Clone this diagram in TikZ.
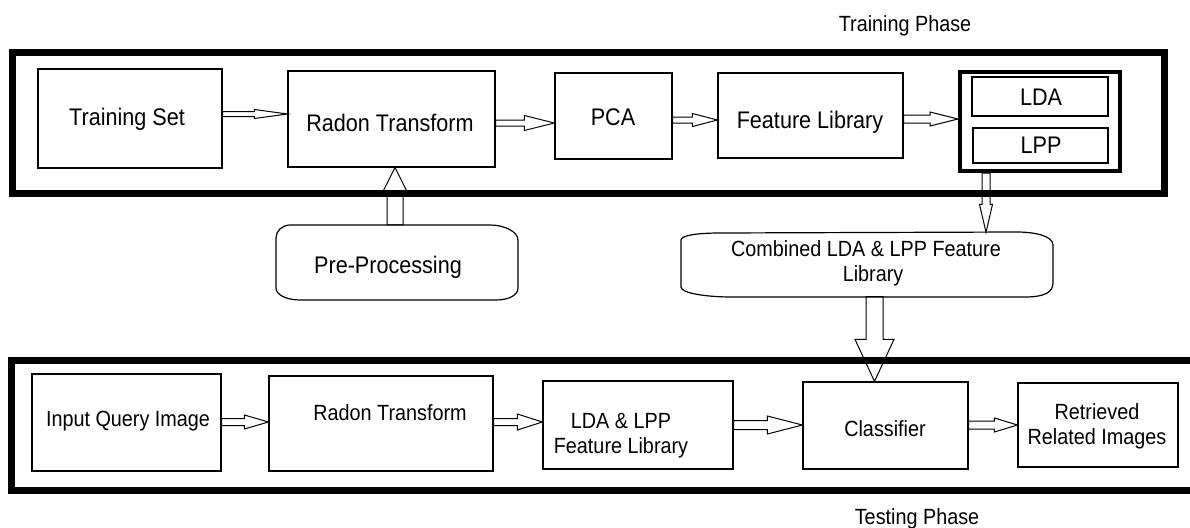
\documentclass[tikz,border=0pt]{standalone}
\usepackage{fontspec}
\setmainfont{Liberation Sans}[FakeStretch=0.9]
\usetikzlibrary{calc}
\tikzset{
  box/.style args={#1 and #2}{draw, line width=1.2pt, inner sep=0pt, minimum width=#1, minimum height=#2},
  lblA/.style={inner sep=0pt, anchor=base, font=\fontsize{24}{28}\selectfont},
  lblB/.style={inner sep=0pt, anchor=base, font=\fontsize{22}{26}\selectfont},
  frame/.style={line width=7pt},
  blk/.style={draw, line width=1pt, line join=miter},
  holder/.style={inner sep=0pt, minimum width=#1},
}
% horizontal block arrow: from, to, y(px), half shaft, half head, head length
\newcommand\harr[6]{\draw[blk] let \p1=(#1.east), \p2=(#2.west) in
  (\x1,-#3pt+#4pt) -- (\x2-#6pt,-#3pt+#4pt) -- (\x2-#6pt,-#3pt+#5pt) -- (\x2,-#3pt)
  -- (\x2-#6pt,-#3pt-#5pt) -- (\x2-#6pt,-#3pt-#4pt) -- (\x1,-#3pt-#4pt) -- cycle;}
% downward block arrow: from, to, x(px), half shaft, half head, head length
\newcommand\darr[6]{\draw[blk] let \p1=(#1.south), \p2=(#2.north) in
  (#3pt-#4pt,\y1) -- (#3pt-#4pt,\y2+#6pt) -- (#3pt-#5pt,\y2+#6pt) -- (#3pt,\y2)
  -- (#3pt+#5pt,\y2+#6pt) -- (#3pt+#4pt,\y2+#6pt) -- (#3pt+#4pt,\y1) -- cycle;}
% upward block arrow
\newcommand\uarr[6]{\draw[blk] let \p1=(#1.north), \p2=(#2.south) in
  (#3pt-#4pt,\y1) -- (#3pt-#4pt,\y2-#6pt) -- (#3pt-#5pt,\y2-#6pt) -- (#3pt,\y2)
  -- (#3pt+#5pt,\y2-#6pt) -- (#3pt+#4pt,\y2-#6pt) -- (#3pt+#4pt,\y1) -- cycle;}
\begin{document}
\begin{tikzpicture}[x=1pt,y=1pt]
\useasboundingbox (0,0) rectangle (1190,-527);
\clip (0,0) rectangle (1190,-527);
\fill[white] (0,0) rectangle (1190,-527);

% headings
\node[lblB] (trphase) at (905,-32) {Training Phase};
\node[lblB] (tsphase) at (917,-524) {Testing Phase};

% frames
\draw[frame] (12.5,-53) rectangle (1164,-193.5);
\draw[frame] (11.5,-360) rectangle (1205,-490);

% training row
\node[box=184pt and 99pt] (ts) at (130,-118.5) {};
\node[lblA] (tstxt) at (127,-125.6) {Training Set};
\node[box=207pt and 96pt] (rt1) at (391.5,-119) {};
\node[lblA] (rt1txt) at (390,-131.6) {Radon Transform};
\node[box=117pt and 86pt] (pca) at (613.5,-116) {};
\node[lblA] (pcatxt) at (613,-125.6) {PCA};
\node[box=185pt and 85pt] (fl) at (810.5,-115.5) {};
\node[lblA] (fltxt) at (810,-128.6) {Feature Library};
\node[box=160pt and 99pt, line width=4pt] (ldabig) at (1040,-121.5) {};
\node[box=136pt and 39pt] (lda) at (1040,-96.5) {};
\node[lblA] (ldatxt) at (1041,-105.6) {LDA};
\node[box=135pt and 35pt] (lpp) at (1040.5,-145.5) {};
\node[lblA] (lpptxt) at (1041,-153.6) {LPP};

% pre-processing
\node[holder=242pt, minimum height=75pt] (pre) at (397,-262.5) {};
\draw[line width=1.2pt] (276,-238) -- (276,-288) .. controls (276,-295) and (287,-300) .. (300,-300)
  -- (496,-300) .. controls (509,-300) and (518,-295) .. (518,-288)
  -- (518,-240) .. controls (518,-232) and (505,-225) .. (490,-225)
  -- (290,-225) .. controls (282,-225) and (276,-231) .. (276,-238) -- cycle;
\node[lblA] (pretxt) at (388,-273.6) {Pre-Processing};

% combined library
\node[holder=372pt, minimum height=64pt] (comb) at (867,-264.5) {};
\draw[line width=1.2pt] (681,-240) -- (681,-287) .. controls (681,-293) and (705,-297) .. (732,-297)
  -- (1025,-297) .. controls (1045,-297) and (1053,-292) .. (1053,-283)
  -- (1053,-245) .. controls (1053,-236) and (1035,-232) .. (1017,-232)
  -- (720,-233) .. controls (700,-233) and (681,-235) .. (681,-240) -- cycle;
\node[lblB] (combtxt1) at (866,-256) {Combined LDA \& LPP Feature};
\node[lblB] (combtxt2) at (873,-281) {Library};

% testing row
\node[box=189pt and 97pt] (iq) at (126.5,-422.5) {};
\node[lblB] (iqtxt) at (128,-426) {Input Query Image};
\node[box=224pt and 95pt] (rt2) at (381,-423.5) {};
\node[lblB] (rt2txt) at (390,-420) {Radon Transform};
\node[box=190pt and 88pt] (ll) at (638,-425) {};
\node[lblB] (lltxt1) at (621,-428) {LDA \& LPP};
\node[lblB] (lltxt2) at (621,-453) {Feature Library};
\node[box=165pt and 87pt] (cls) at (885.5,-425.5) {};
\node[lblB] (clstxt) at (885,-436) {Classifier};
\node[box=160pt and 84pt] (ret) at (1098,-425) {};
\node[lblB] (rettxt1) at (1097,-419) {Retrieved};
\node[lblB] (rettxt2) at (1097,-444) {Related Images};

% connectors
\harr{ts}{rt1}{114}{2.5}{4.5}{33}
\harr{rt1}{pca}{123}{3}{7.5}{30}
\harr{pca}{fl}{120}{3}{6.5}{25}
\harr{fl}{ldabig}{119}{4}{7}{28}
\harr{iq}{rt2}{422}{3.5}{7}{24}
\harr{rt2}{ll}{422}{3.5}{8}{25}
\harr{ll}{cls}{425}{4.5}{9}{35}
\harr{cls}{ret}{425}{4}{7}{23}
\uarr{pre}{rt1}{395}{8}{11.5}{23}
\darr{ldabig}{comb}{986}{4}{6.5}{28}
\darr{comb}{cls}{874.5}{8.5}{19.5}{42}
\end{tikzpicture}
\end{document}
